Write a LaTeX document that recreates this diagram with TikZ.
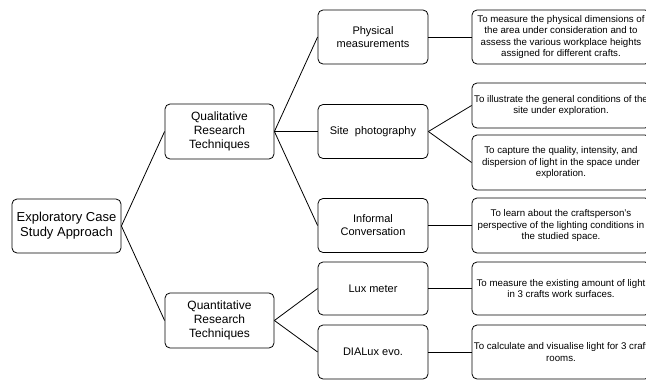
\documentclass[tikz,border=0pt]{standalone}
\usepackage{fontspec}
\setmainfont{Liberation Sans}
\begin{document}
\begin{tikzpicture}[x=1pt,y=-1pt,
  box/.style={draw, rounded corners=5pt, line width=0.8pt, align=center, inner sep=0pt},
  rootbox/.style={box, minimum width=109pt, minimum height=54pt, font=\fontsize{13}{15}\selectfont},
  lvlone/.style={box, minimum width=109pt, minimum height=55pt, font=\fontsize{12}{14}\selectfont},
  lvltwo/.style={box, minimum width=110pt, minimum height=54pt, font=\fontsize{11}{13}\selectfont},
  rbox/.style={box, minimum width=178pt},
  rtext/.style={align=center, inner sep=0pt, font=\fontsize{9.7}{11.2}\selectfont},
  conn/.style={line width=0.8pt}]
\clip (0,0) rectangle (646,380);
\useasboundingbox (0,0) rectangle (646,380);
% left
\node[rootbox] (root) at (66.5,226) {Exploratory Case\\Study Approach};
\node[lvlone] (qual) at (219.5,131.5) {Qualitative\\Research\\Techniques};
\node[lvlone] (quant) at (219.5,320.5) {Quantitative\\Research\\Techniques};
% middle
\node[lvltwo] (phys) at (373,37) {Physical\\measurements};
\node[lvltwo] (site) at (373,131.5) {Site\ \ photography};
\node[lvltwo] (inf) at (373,225.5) {Informal\\Conversation};
\node[lvltwo, minimum height=53pt] (lux) at (373,288.5) {Lux meter};
\node[lvltwo] (dia) at (373,352) {DIALux evo.};
% right boxes
\node[rbox, minimum height=54pt] (r1) at (561,37) {};
\node[rbox, minimum height=45pt] (r2) at (561,105.5) {};
\node[rbox, minimum height=55pt] (r3) at (561,162.5) {};
\node[rbox, minimum height=55pt] (r4) at (561,225.5) {};
\node[rbox, minimum height=53pt] (r5) at (561,288.5) {};
\node[rbox, minimum height=54pt] (r6) at (561,352) {};
% right texts
\node[rtext] (t1) at (r1.center) {To measure the physical dimensions of\\the area under consideration and to\\assess the various workplace heights\\assigned for different crafts.};
\node[rtext] (t2) at (r2.center) {To illustrate the general conditions of the\\site under exploration.};
\node[rtext] (t3) at (r3.center) {To capture the quality, intensity, and\\dispersion of light in the space under\\exploration.};
\node[rtext] (t4) at (r4.center) {To learn about the craftsperson's\\perspective of the lighting conditions in\\the studied space.};
\node[rtext] (t5) at (r5.center) {To measure the existing amount of light\\in 3 crafts work surfaces.};
\node[rtext] (t6) at (r6.center) {To calculate and visualise light for 3 craft\\rooms.};
% connectors
\draw[conn] (root.east) -- (qual.west);
\draw[conn] (root.east) -- (quant.west);
\draw[conn] (qual.east) -- (phys.west);
\draw[conn] (qual.east) -- (site.west);
\draw[conn] (qual.east) -- (inf.west);
\draw[conn] (quant.east) -- (lux.west);
\draw[conn] (quant.east) -- (dia.west);
\draw[conn] (phys.east) -- (r1.west);
\draw[conn] (site.east) -- (r2.west);
\draw[conn] (site.east) -- (r3.west);
\draw[conn] (inf.east) -- (r4.west);
\draw[conn] (lux.east) -- (r5.west);
\draw[conn] (dia.east) -- (r6.west);
\end{tikzpicture}
\end{document}
